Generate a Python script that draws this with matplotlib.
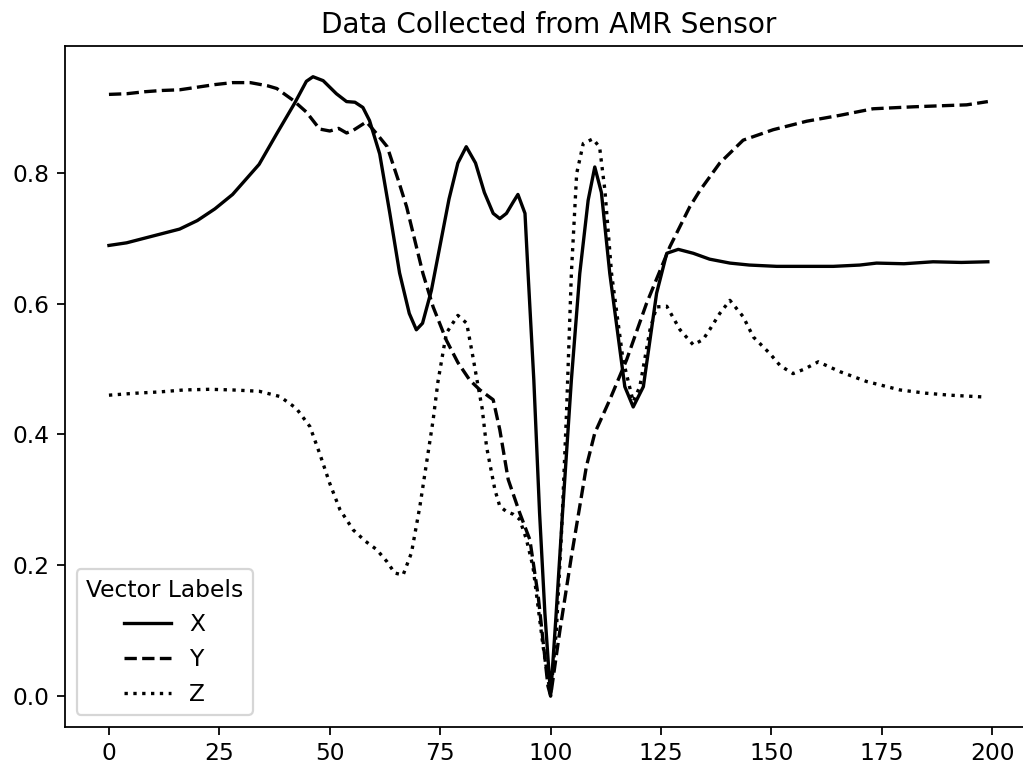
import matplotlib
matplotlib.use('Agg')
import matplotlib.pyplot as plt

# X vector (solid)
x_pos = [0, 4, 8, 12, 16, 20, 24, 28, 31, 34, 38, 42, 44.7, 46.2, 48.5, 51.5, 53.8, 55.7,
         57.5, 59, 61.3, 63.6, 65.8, 68, 69.6, 71, 73, 75, 77, 79, 80.9, 83, 85, 87, 88.5,
         90, 91.5, 92.6, 94.2, 94.9, 96.2, 97.5, 98.7, 100, 101.2, 102.7, 104.7, 106.6,
         108.5, 110, 111.5, 113.4, 116.8, 118.7, 121, 124, 126.3, 128.9, 132.3, 136,
         140.6, 145, 151.2, 158, 164, 170, 173.8, 180, 186.6, 193, 199]
x_val = [0.689, 0.693, 0.700, 0.707, 0.714, 0.727, 0.745, 0.767, 0.790, 0.813, 0.860, 0.906,
         0.940, 0.947, 0.941, 0.921, 0.909, 0.908, 0.900, 0.880, 0.829, 0.738, 0.647, 0.585,
         0.560, 0.570, 0.620, 0.690, 0.760, 0.815, 0.840, 0.815, 0.770, 0.738, 0.730, 0.738,
         0.755, 0.767, 0.738, 0.646, 0.483, 0.280, 0.127, 0.0, 0.120, 0.280, 0.483, 0.646,
         0.758, 0.809, 0.770, 0.646, 0.473, 0.442, 0.473, 0.616, 0.677, 0.683, 0.677, 0.668,
         0.662, 0.659, 0.657, 0.657, 0.657, 0.659, 0.662, 0.661, 0.664, 0.663, 0.664]

# Y vector (dashed)
y_pos = [0, 4, 8, 12, 16, 20, 24, 28, 32, 36, 38, 41.7, 44.7, 47.7, 50, 52, 53.8, 55.3, 58.3,
         60.6, 63, 65.5, 67.4, 71.1, 73.4, 76.4, 79, 81.7, 84, 87, 88.5, 90.4, 93, 95.3, 97.2,
         99.4, 100, 102.1, 104.7, 106.6, 108.1, 110, 113.4, 117.2, 121.7, 127, 131.5, 133.8,
         138.3, 143.6, 150.4, 158, 165.5, 173, 182.1, 190, 194.2, 199]
y_val = [0.920, 0.921, 0.924, 0.926, 0.927, 0.931, 0.935, 0.938, 0.938, 0.933, 0.929, 0.911,
         0.893, 0.867, 0.864, 0.868, 0.861, 0.865, 0.878, 0.860, 0.840, 0.789, 0.748, 0.646,
         0.595, 0.544, 0.510, 0.483, 0.468, 0.453, 0.407, 0.331, 0.280, 0.239, 0.152, 0.015,
         0.0, 0.100, 0.213, 0.290, 0.351, 0.402, 0.453, 0.514, 0.600, 0.687, 0.748, 0.773,
         0.815, 0.850, 0.866, 0.879, 0.888, 0.898, 0.901, 0.903, 0.904, 0.909]

# Z vector (dotted)
z_pos = [0, 6, 11.5, 17, 22.8, 28, 34, 38.7, 42.4, 45.5, 47.7, 50, 52.3, 55.3, 58, 60.6, 63,
         64.7, 66.6, 68.5, 70.4, 71.9, 73.4, 74.5, 76.4, 79, 81, 82.4, 83.6, 84.5, 85.5, 87.4,
         88.5, 90, 91.5, 93, 94.5, 96, 98.3, 100, 101.3, 102.5, 103.6, 104.7, 105.9, 107.4,
         109.6, 111.1, 112.3, 113.8, 116.4, 118.7, 120.2, 122.5, 124, 126.3, 129.3, 132.3,
         134.5, 136, 138.3, 140.6, 143.6, 145.9, 149.6, 152, 154.9, 157.5, 160.6, 165.5,
         171.5, 179.1, 185, 190.4, 198.7]
z_val = [0.460, 0.463, 0.465, 0.468, 0.469, 0.468, 0.466, 0.458, 0.440, 0.412, 0.371, 0.325,
         0.285, 0.254, 0.237, 0.224, 0.205, 0.188, 0.185, 0.219, 0.290, 0.356, 0.422, 0.481,
         0.555, 0.582, 0.570, 0.519, 0.473, 0.440, 0.381, 0.315, 0.290, 0.282, 0.278, 0.270,
         0.240, 0.198, 0.076, 0.0, 0.100, 0.254, 0.433, 0.646, 0.799, 0.845, 0.852, 0.839,
         0.773, 0.646, 0.514, 0.450, 0.473, 0.560, 0.595, 0.596, 0.560, 0.537, 0.545, 0.560,
         0.585, 0.605, 0.580, 0.549, 0.524, 0.505, 0.493, 0.500, 0.511, 0.496, 0.481, 0.468,
         0.463, 0.460, 0.457]

plt.rcParams['font.size'] = 10.5

fig = plt.figure(figsize=(1023 / 160, 767 / 160), dpi=160)
# the original picture is cropped on the right, so the axes run past the edge
ax = fig.add_axes([65 / 1023, 40.3 / 767, 966.8 / 1023, 680.7 / 767])

ax.plot(x_pos, x_val, color='black', linestyle='-', label='X')
ax.plot(y_pos, y_val, color='black', linestyle='--', label='Y')
ax.plot(z_pos, z_val, color='black', linestyle=':', label='Z')

ax.set_xlim(-9.95, 208.95)
ax.set_ylim(-0.047, 0.994)
ax.spines['right'].set_visible(False)
ax.set_xticks([0, 25, 50, 75, 100, 125, 150, 175, 200])
ax.set_yticks([0.0, 0.2, 0.4, 0.6, 0.8])
ax.set_title('Data Collected from AMR Sensor')
ax.legend(title='Vector Labels', loc='lower left')

fig.savefig('out.png', dpi=160)
